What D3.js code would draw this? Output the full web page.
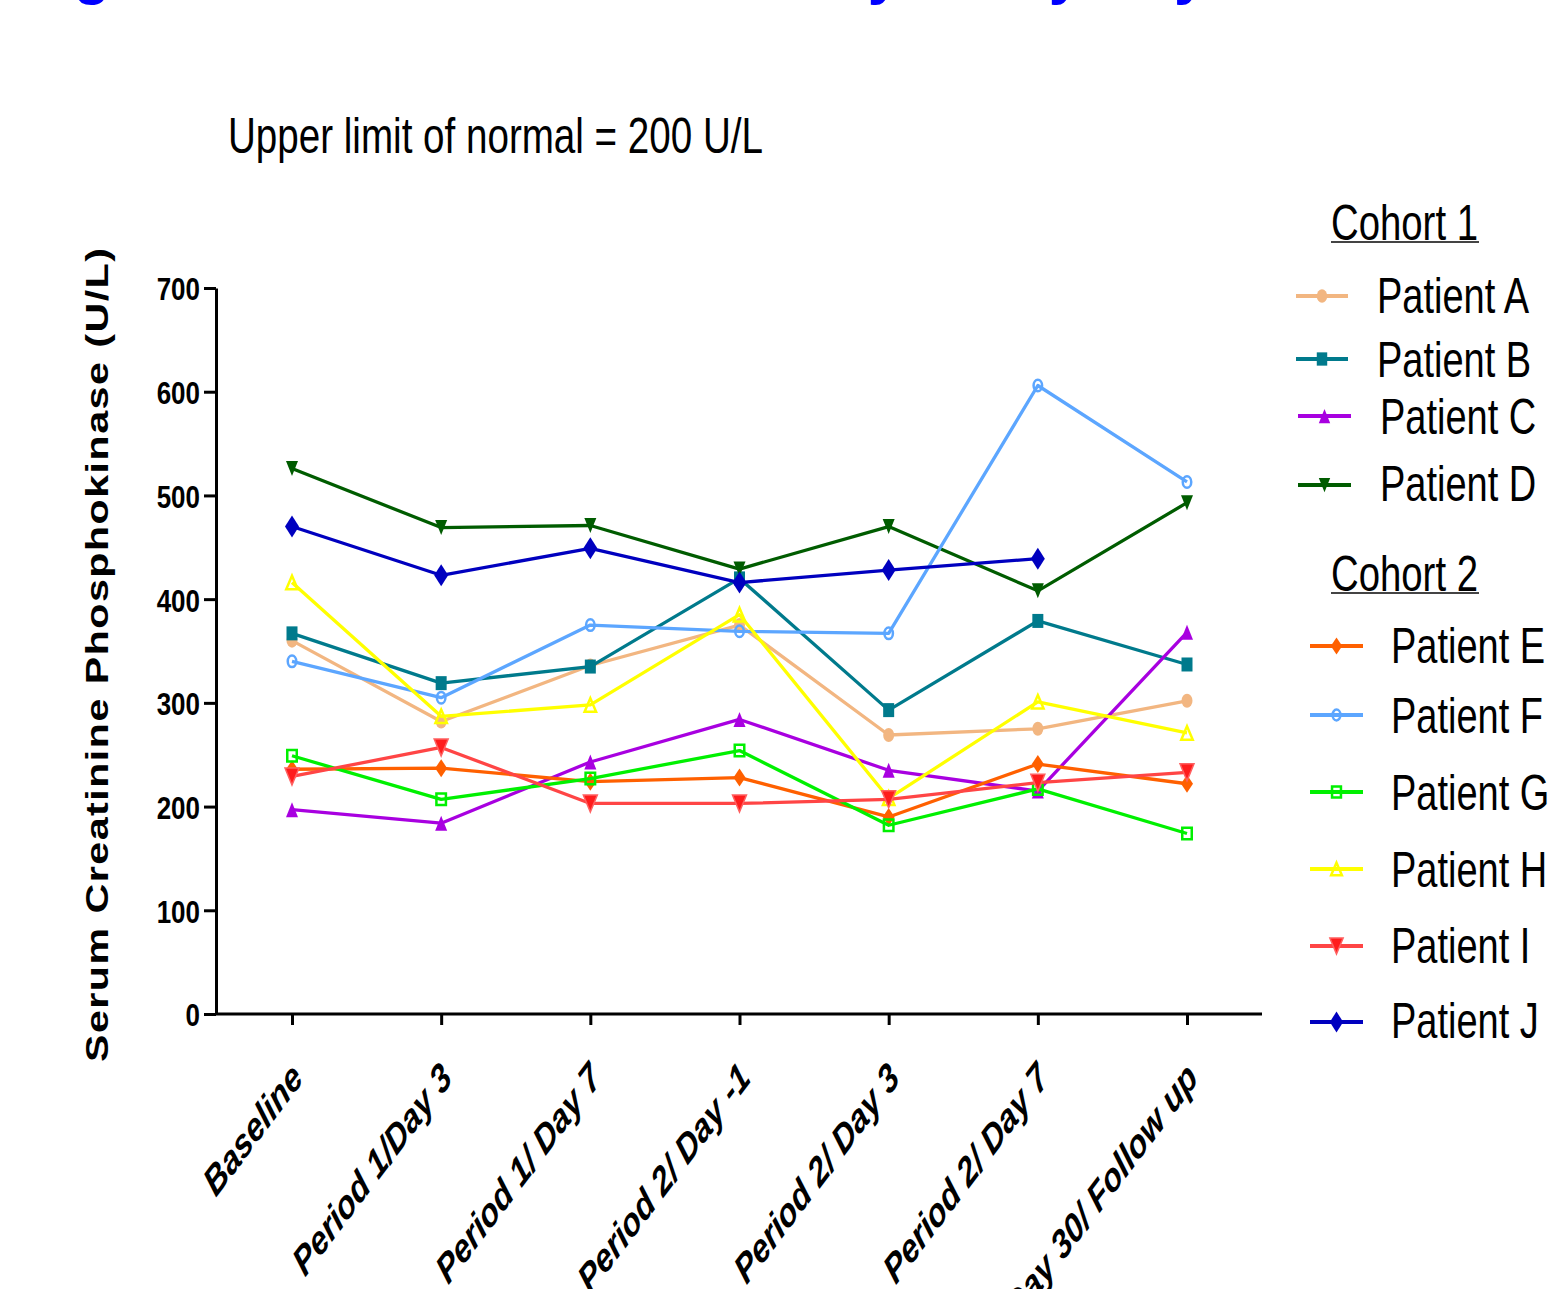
<!DOCTYPE html>
<html>
<head>
<meta charset="utf-8">
<script src="https://cdn.jsdelivr.net/npm/d3@7"></script>
<style>
  body { margin: 0; background: #fff; }
  svg { display: block; font-family: Arial, "Liberation Sans", sans-serif; }
</style>
</head>
<body>
<svg id="chart" width="1555" height="1289"></svg>
<script>
// Study visits (x categories)
const categories = ["Baseline", "Period 1/Day 3", "Period 1/ Day 7", "Period 2/ Day -1",
                    "Period 2/ Day 3", "Period 2/ Day 7", "Day 30/ Follow up"];
const yTicks = [0, 100, 200, 300, 400, 500, 600, 700];

// Serum CPK (U/L) per patient at each visit
const patientA = [360, 282, 336, 375, 269, 275, 302];
const patientB = [367, 319, 335, 420, 293, 379, 337];
const patientC = [197, 184, 243, 284, 235, 215, 368];
const patientD = [526, 469, 471, 429, 470, 408, 493];
const patientE = [236, 237, 224, 228, 190, 241, 222];
const patientF = [340, 305, 375, 369, 367, 606, 513];
const patientG = [249, 207, 227, 254, 182, 217, 174];
const patientH = [416, 287, 298, 385, 208, 301, 271];
const patientI = [229, 257, 203, 203, 207, 223, 233];
const patientJ = [470, 423, 449, 416, 428, 439, null];

const cohort1 = ["Patient A", "Patient B", "Patient C", "Patient D"];
const cohort2 = ["Patient E", "Patient F", "Patient G", "Patient H", "Patient I", "Patient J"];

const seriesValues = [patientA, patientB, patientC, patientD, patientE,
                      patientF, patientG, patientH, patientI, patientJ];
const seriesNames = cohort1.concat(cohort2);

// Appearance of each patient's line and marker
const styles = [
  { line: "#f2b681", fill: "#f2b681", shape: "circle",   w: 11, h: 14, open: false },
  { line: "#007a8c", fill: "#007a8c", shape: "square",   w: 11, h: 14, open: false },
  { line: "#a800e0", fill: "#a800e0", shape: "triUp",    w: 12, h: 15, open: false },
  { line: "#005c00", fill: "#005c00", shape: "triDown",  w: 12, h: 15, open: false },
  { line: "#ff6000", fill: "#ff6000", shape: "diamond",  w: 12, h: 18, open: false },
  { line: "#5ca6ff", fill: "#5ca6ff", shape: "circle",   w: 11, h: 14, open: true  },
  { line: "#00f000", fill: "#00f000", shape: "square",   w: 12, h: 14, open: true  },
  { line: "#ffff00", fill: "#ffff00", shape: "triUp",    w: 14, h: 16, open: true  },
  { line: "#ff4545", fill: "#ff1c1c", shape: "triDown",  w: 14, h: 17, open: false },
  { line: "#0000bf", fill: "#0000bf", shape: "diamond",  w: 14, h: 22, open: false }
];

const S = 1.33; // vertical stretch applied to lettering

const svg = d3.select("#chart");

// marker outline centred on (0,0), w wide and h tall
function markerPath(shape, w, h) {
  const a = w / 2, b = h / 2;
  switch (shape) {
    case "circle":  return `M${-a},0A${a},${b} 0 1,0 ${a},0A${a},${b} 0 1,0 ${-a},0Z`;
    case "square":  return `M${-a},${-b}H${a}V${b}H${-a}Z`;
    case "triUp":   return `M0,${-b}L${a},${b}L${-a},${b}Z`;
    case "triDown": return `M0,${b}L${a},${-b}L${-a},${-b}Z`;
    case "diamond": return `M0,${-b}L${a},0L0,${b}L${-a},0Z`;
  }
}

function drawMarker(g, st, cx, cy, scale = 1) {
  const open = st.open;
  const soft = st.shape === "triDown" && st.fill === "#ff1c1c";
  g.append("path")
    .attr("d", markerPath(st.shape, st.w * scale - (open ? 2.5 : 0), st.h * scale - (open ? 2.5 : 0)))
    .attr("transform", `translate(${cx},${cy})`)
    .attr("fill", open ? "none" : st.fill)
    .attr("stroke", open ? st.fill : (soft ? "#ff6060" : "none"))
    .attr("stroke-width", open ? 2.5 : 1.5);
}

// Title (runs off the top edge)
svg.append("text")
  .attr("x", 21).attr("y", -7)
  .attr("fill", "#0000ff")
  .attr("font-size", 60).attr("font-weight", "bold")
  .attr("textLength", 1186).attr("lengthAdjust", "spacingAndGlyphs")
  .text("Figure 1: Serum CPK Levels by Study Day");

// Note above the plot
svg.append("text")
  .attr("transform", `translate(228,153) scale(1,${S})`)
  .attr("font-size", 38)
  .attr("textLength", 535).attr("lengthAdjust", "spacingAndGlyphs")
  .text("Upper limit of normal = 200 U/L");

// Scales
const x = d3.scalePoint().domain(categories).range([292, 1187]);
const y = d3.scaleLinear().domain([0, 700]).range([1014, 288]);

// Y axis
const gy = svg.append("g").attr("transform", "translate(216,0)")
  .call(d3.axisLeft(y).tickValues(yTicks).tickSize(12).tickSizeOuter(0));
gy.select(".domain").attr("stroke-width", 3).attr("stroke", "#000");
gy.selectAll(".tick line").attr("stroke-width", 3).attr("stroke", "#000");
gy.selectAll(".tick text")
  .attr("x", null).attr("dy", null)
  .attr("transform", `translate(-16,${0.36 * 25 * S}) scale(1,${S * 0.9})`)
  .attr("font-size", 26).attr("font-weight", "bold")
  .attr("font-family", "Arial, 'Liberation Sans', sans-serif")
  .attr("fill", "#000");

// X axis
const gx = svg.append("g").attr("transform", "translate(0,1014)")
  .call(d3.axisBottom(x).tickSize(11).tickSizeOuter(0));
gx.select(".domain").remove();
gx.append("line").attr("x1", 216).attr("x2", 1262).attr("y1", 0).attr("y2", 0)
  .attr("stroke", "#000").attr("stroke-width", 3);
gx.selectAll(".tick line").attr("stroke-width", 3).attr("stroke", "#000");
gx.selectAll(".tick text")
  .attr("y", null).attr("dy", null)
  .attr("transform", `translate(12,66) scale(1,${S}) rotate(-45)`)
  .attr("text-anchor", "end")
  .attr("font-size", 30.5).attr("font-weight", "bold").attr("font-style", "italic")
  .attr("font-family", "Arial, 'Liberation Sans', sans-serif")
  .attr("fill", "#000");

// Y axis title
svg.append("text")
  .attr("transform", `translate(108,655) scale(1,${S}) rotate(-90)`)
  .attr("text-anchor", "middle")
  .attr("font-size", 31).attr("font-weight", "bold")
  .attr("textLength", 814 / S).attr("lengthAdjust", "spacing")
  .text("Serum Creatinine Phosphokinase (U/L)");

// Patient lines and markers
const line = d3.line()
  .defined(d => d.v != null)
  .x(d => x(d.c))
  .y(d => y(d.v));

const plot = svg.append("g");
seriesValues.forEach((vals, i) => {
  const st = styles[i];
  const pts = vals.map((v, k) => ({ c: categories[k], v }));
  plot.append("path")
    .datum(pts)
    .attr("d", line)
    .attr("fill", "none")
    .attr("stroke", st.line)
    .attr("stroke-width", 3.3)
    .attr("stroke-linejoin", "round");
  const mg = plot.append("g");
  pts.filter(d => d.v != null).forEach(d => drawMarker(mg, st, x(d.c), y(d.v)));
});

// Legend
const legend = svg.append("g");
function header(label, baseline) {
  legend.append("text")
    .attr("transform", `translate(1331,${baseline}) scale(1,${S})`)
    .attr("font-size", 38)
    .attr("textLength", 147).attr("lengthAdjust", "spacingAndGlyphs")
    .text(label);
  legend.append("line")
    .attr("x1", 1331).attr("x2", 1479)
    .attr("y1", baseline + 2).attr("y2", baseline + 2)
    .attr("stroke", "#444").attr("stroke-width", 2);
}
header("Cohort 1", 240);
header("Cohort 2", 591);

const legendRows = [
  { lineY: 296, x1: 1296, x2: 1348, tx: 1377, base: 313 },
  { lineY: 359, x1: 1296, x2: 1348, tx: 1377, base: 377 },
  { lineY: 416, x1: 1298, x2: 1351, tx: 1380, base: 434 },
  { lineY: 485, x1: 1298, x2: 1351, tx: 1380, base: 501 },
  { lineY: 646, x1: 1310, x2: 1363, tx: 1391, base: 663 },
  { lineY: 715, x1: 1310, x2: 1363, tx: 1391, base: 733 },
  { lineY: 792, x1: 1310, x2: 1363, tx: 1391, base: 810 },
  { lineY: 869, x1: 1310, x2: 1363, tx: 1391, base: 887 },
  { lineY: 946, x1: 1310, x2: 1363, tx: 1391, base: 963 },
  { lineY: 1022, x1: 1310, x2: 1363, tx: 1391, base: 1038 }
];
seriesNames.forEach((name, i) => {
  const r = legendRows[i], st = styles[i];
  legend.append("line")
    .attr("x1", r.x1).attr("x2", r.x2).attr("y1", r.lineY).attr("y2", r.lineY)
    .attr("stroke", st.line).attr("stroke-width", 4);
  drawMarker(legend, st, (r.x1 + r.x2) / 2, r.lineY, 0.95);
  legend.append("text")
    .attr("transform", `translate(${r.tx},${r.base}) scale(1,${S})`)
    .attr("font-size", 38)
    .text(name);
});
</script>
</body>
</html>
